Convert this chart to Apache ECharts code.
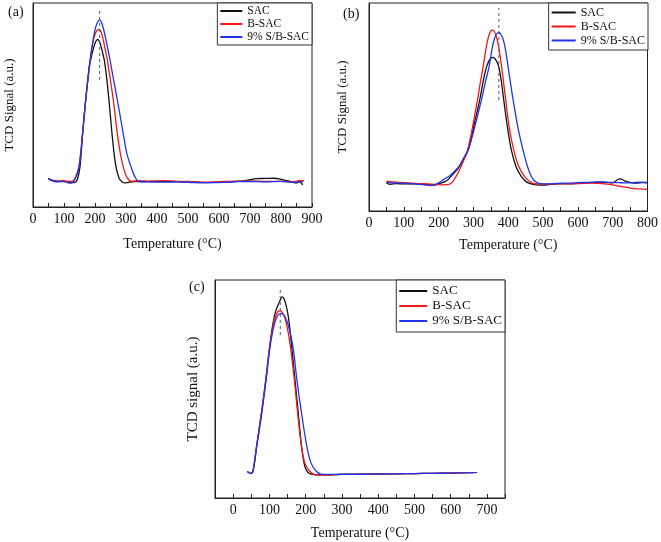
<!DOCTYPE html>
<html>
<head>
<meta charset="utf-8">
<script src="https://cdn.jsdelivr.net/npm/echarts@6/dist/echarts.min.js"></script>
<style>html,body{margin:0;padding:0;background:#fff}#c{width:661px;height:542px}</style>
</head>
<body>
<div id="c"></div>
<script>
// ---- Data (temperature °C, TCD signal a.u.) ----
const seriesNames = ['SAC', 'B-SAC', '9% S/B-SAC'];

const aSAC = [[50,14.1],[60,13.2],[75,12.8],[90,12.6],[105,12.4],[120,12.0],[135,12.1],[143,13.5],[151.6,19.8],[160,36],[170,52.5],[181.7,68.8],[188,73.5],[194.6,77.5],[201,80.6],[208.6,82.2],[214,81.2],[219,79],[224.7,75.5],[230,72],[235.5,66],[245,52.5],[254.8,36],[261,27],[267.7,19.8],[278,14],[288,12.3],[297,11.8],[310,12.2],[330,12.5],[360,12.4],[400,12.6],[450,12.4],[500,12.2],[550,11.9],[600,12.2],[650,12.5],[680,12.8],[700,13.4],[720,13.9],[750,14.0],[780,14.1],[800,13.5],[830,12.5],[850,11.8],[860,12.3],[870,10.8]];
const aBSAC = [[50,13.5],[65,12.9],[80,12.6],[95,13.0],[110,12.7],[125,12.5],[135,14],[148,19.8],[160,36],[170,52.5],[181.7,68.8],[187,75],[192.5,80.2],[198,83.5],[205,86.3],[213,87.1],[219,86],[225,83],[232,78],[238,73.5],[245,67],[259,52.5],[272,36],[282,26],[291,19.8],[303,14.5],[318,12.6],[340,12.9],[380,12.7],[420,12.9],[460,12.7],[500,12.5],[550,12.2],[600,12.4],[650,12.6],[700,12.8],[750,12.5],[800,12.6],[840,12.4],[860,13.0],[875,12.8]];
const aSBSAC = [[50,13.8],[65,12.7],[80,12.3],[100,12.6],[118,11.7],[128,12.0],[138,14.5],[149,19.8],[160,36],[170,52.5],[181.7,68.8],[187,75],[192.5,80.5],[198,85.5],[205,89.5],[215,91.7],[221,90.5],[228,87],[238,80],[246,74],[253.8,67.5],[272,52.5],[291,36],[303,26],[316,19.8],[328,15],[340,12.6],[370,12.3],[420,12.2],[470,12.3],[520,12.0],[570,11.9],[620,12.1],[660,12.4],[700,12.5],[750,12.3],[800,12.6],[840,12.1],[870,12.6]];
const aPeakLine = [[215,62.3],[215,97.4]];

const bSAC = [[50,13.6],[60,12.8],[80,13.2],[100,13.0],[130,13.0],[160,12.8],[185,12.5],[205,13.3],[223,14.5],[240,17.5],[260,21.5],[284.8,29.3],[300,40],[318,53.4],[330,64],[338,69.4],[345,72.3],[351,73.6],[356,73.9],[362,73.2],[368,71.5],[374,68.5],[380,62.5],[387,53.4],[398,40],[409,29.3],[423,21],[437.8,16.5],[452,14],[466,13],[480,12.6],[500,12.4],[520,12.8],[540,13.1],[560,13.2],[580,13.0],[600,13.3],[620,13.4],[640,13.6],[660,13.9],[680,13.8],[700,13.5],[712,14.8],[722,15.4],[735,14.5],[750,13.8],[770,13.4],[785,13.6],[800,13.5]];
const bBSAC = [[50,14.4],[70,14.0],[100,13.6],[130,13.3],[160,13.1],[190,12.8],[210,12.6],[230,12.8],[240,14],[255,18],[270,23.5],[283,29.3],[297,40],[311.6,53.4],[320,62],[327.9,69.4],[334,76],[340,81.5],[346,85.2],[351,86.7],[355,87],[360,86.3],[366,83.8],[372,79.5],[380.4,70],[392.8,53.4],[403,40],[415.8,29.3],[430,21.5],[447,16.5],[462,14.2],[476,13.1],[500,12.9],[530,13.0],[560,13.1],[600,13.2],[640,13.4],[670,13.2],[700,12.6],[720,11.9],[740,11.4],[760,10.8],[780,10.6],[800,10.4]];
const bSBSAC = [[50,13.8],[70,13.5],[100,13.3],[130,13.0],[160,12.6],[180,12.2],[200,13.5],[215,15.2],[232,17],[250,19.8],[261,22.1],[272,25.5],[284.8,29.3],[300,38],[323,53.4],[335,62.5],[345,69.4],[352,76.5],[358,81.5],[364,84.5],[369,85.6],[373,85.7],[378,85.2],[384,83.2],[390,79.5],[396,73.5],[402,66.5],[414,53.4],[428,40],[442.5,29.3],[455,21.5],[466.5,16.5],[478,14.2],[490,13.2],[510,13.0],[540,13.3],[570,13.4],[600,13.6],[630,13.8],[660,14.0],[690,13.8],[720,13.6],[750,13.5],[780,13.9],[800,13.7]];
const bPeakLine = [[373,53.4],[373,97.6]];

const cSAC = [[39,12.2],[44,11.6],[49,11.3],[55,12.5],[64.5,23.5],[78,38.8],[90,54.1],[100.8,69.4],[110,80.1],[117,85.5],[124,88.5],[130,90.8],[135.3,92.3],[140,91.5],[146,88.5],[152.5,83],[161.6,69.4],[170.7,54.1],[179.8,38.8],[188.8,23.5],[197,15],[205,12],[215,10.9],[230,10.6],[260,10.6],[300,10.8],[350,10.9],[400,11.0],[450,11.1],[500,11.2],[550,11.3],[600,11.4],[650,11.6],[673,11.8]];
const cBSAC = [[39,12.2],[44,11.6],[49,11.3],[55,12.5],[64.5,23.5],[78,38.8],[90,54.1],[100.8,69.4],[110,79],[116,83],[122,85.2],[129.9,85.9],[135,85.3],[141,83.5],[149,78.5],[158,69.4],[169,54.1],[178,38.8],[188.8,23.5],[198,16],[210,12.5],[223,10.8],[240,10.5],[270,10.6],[300,10.8],[350,10.9],[400,11.0],[450,11.1],[500,11.2],[550,11.3],[600,11.4],[650,11.6],[673,11.8]];
const cSBSAC = [[39,12.2],[44,11.6],[49,11.3],[55,12.5],[65,23.5],[79,38.8],[91,54.1],[102,69.4],[110,77],[117,81.5],[124,84],[131.7,84.7],[138,84.2],[145,82.5],[152.6,79],[165,69.4],[176,54.1],[188.8,38.8],[203.5,23.5],[215,16],[228,12.5],[241.6,11],[260,10.8],[300,10.9],[350,10.9],[400,11.0],[450,11.1],[500,11.2],[550,11.3],[600,11.4],[650,11.6],[673,11.8]];
const cPeakLine = [[130,74.8],[130,96.9]];

// ---- Chart ----
const FONT = 'Liberation Serif';
const colors = ['#111111', '#f01818', '#2233ee'];
const chart = echarts.init(document.getElementById('c'));

const grids = [
  {left: 33, top: 3, width: 279, height: 204},
  {left: 369, top: 3, width: 279, height: 208},
  {left: 215, top: 280, width: 290, height: 218}
];
const xRanges = [[0, 900], [0, 800], [-50, 750]];
const xNameGaps = [30, 27, 28];
const yNames = ['TCD Signal (a.u.)', 'TCD Signal (a.u.)', 'TCD signal (a.u.)'];
const yNameGaps = [17, 20, 14];
const yNameSizes = [13, 13, 15];

const xAxes = grids.map((g, i) => ({
  type: 'value', gridIndex: i, min: xRanges[i][0], max: xRanges[i][1], interval: 50,
  name: 'Temperature (°C)', nameLocation: 'middle', nameGap: xNameGaps[i],
  nameTextStyle: {fontFamily: FONT, fontSize: 14, color: '#111'},
  axisLine: {show: true, onZero: false, lineStyle: {color: '#222', width: 1}},
  axisTick: {show: true, inside: true, length: 4, lineStyle: {color: '#222'}},
  axisLabel: {fontFamily: FONT, fontSize: 14, color: '#111', margin: 5,
    formatter: v => (v % 100 === 0 ? String(v) : '')},
  splitLine: {show: false}
}));
const yAxes = grids.map((g, i) => ({
  type: 'value', gridIndex: i, min: 0, max: 100,
  name: yNames[i], nameLocation: 'middle', nameGap: yNameGaps[i],
  nameTextStyle: {fontFamily: FONT, fontSize: yNameSizes[i], color: '#111'},
  axisLine: {show: true, onZero: false, lineStyle: {color: '#222'}},
  axisTick: {show: false}, axisLabel: {show: false}, splitLine: {show: false}
}));

const panelData = [[aSAC, aBSAC, aSBSAC], [bSAC, bBSAC, bSBSAC], [cSAC, cBSAC, cSBSAC]];
const peakLines = [aPeakLine, bPeakLine, cPeakLine];
const series = [];
panelData.forEach((set, i) => {
  set.forEach((d, k) => {
    series.push({
      type: 'line', name: seriesNames[k], xAxisIndex: i, yAxisIndex: i, data: d,
      showSymbol: false, smooth: 0.35,
      color: colors[k], lineStyle: {width: 1.3, color: colors[k]}, z: 3 + k
    });
  });
  series.push({
    type: 'line', name: 'peak' + i, xAxisIndex: i, yAxisIndex: i, data: peakLines[i],
    showSymbol: false, lineStyle: {color: '#555', width: 1, type: [3, 3]}, z: 10, silent: true
  });
});

const legendBase = {
  orient: 'vertical', data: seriesNames, icon: 'rect', itemHeight: 2,
  backgroundColor: '#fff', borderColor: '#333', borderWidth: 1, borderRadius: 0,
  selectedMode: false
};
const legends = [
  Object.assign({}, legendBase, {right: 349, top: 3, itemWidth: 22, itemGap: 1, padding: [2, 3],
    textStyle: {fontFamily: FONT, fontSize: 11.5, lineHeight: 12, color: '#111'}}),
  Object.assign({}, legendBase, {right: 13, top: 3, itemWidth: 24, itemGap: 1, padding: [3, 3],
    textStyle: {fontFamily: FONT, fontSize: 12, lineHeight: 13, color: '#111'}}),
  Object.assign({}, legendBase, {right: 156, top: 280, itemWidth: 28, itemGap: 1, padding: [4, 3],
    textStyle: {fontFamily: FONT, fontSize: 13, lineHeight: 14, color: '#111'}})
];

chart.setOption({
  animation: false,
  backgroundColor: '#fff',
  grid: grids.map(g => Object.assign({show: true, borderColor: '#222', borderWidth: 1, containLabel: false}, g)),
  xAxis: xAxes,
  yAxis: yAxes,
  legend: legends,
  series: series,
  graphic: [
    {type: 'text', left: 8, top: 5, style: {text: '(a)', font: '14px "Liberation Serif"', fill: '#111'}},
    {type: 'text', left: 343, top: 7, style: {text: '(b)', font: '14px "Liberation Serif"', fill: '#111'}},
    {type: 'text', left: 189, top: 280, style: {text: '(c)', font: '14px "Liberation Serif"', fill: '#111'}}
  ]
});
</script>
</body>
</html>
